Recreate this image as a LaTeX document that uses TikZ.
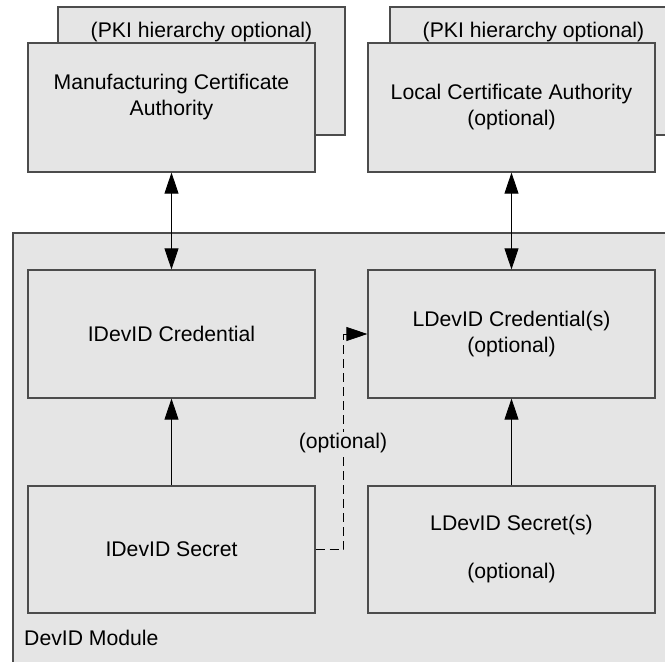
\documentclass[tikz,border=0pt]{standalone}
\usepackage{fontspec}
\setmainfont{Liberation Sans}
\usetikzlibrary{arrows.meta}
\definecolor{boxfill}{gray}{0.9}
\definecolor{boxline}{gray}{0.3}
\begin{document}
\begin{tikzpicture}[x=1pt,y=-1pt,
  box/.style={draw=boxline, fill=boxfill, line width=1.2pt, rectangle, inner sep=0pt, align=center, font=\fontsize{21.2}{26}\selectfont},
  txt/.style={inner sep=1pt, align=center, font=\fontsize{21.2}{26}\selectfont},
  tip/.tip={Triangle[length=21pt,width=14pt]},
  conn/.style={draw=black, line width=0.8pt, -tip},
  biconn/.style={draw=black, line width=0.8pt, tip-tip},
  dashconn/.style={draw=black, line width=0.8pt, dash pattern=on 9pt off 5pt, -tip},
]
\useasboundingbox (0,0) rectangle (665,662);
\clip (0,0) rectangle (665,662);
% back (hierarchy) boxes
\node[box, minimum width=287pt, minimum height=128pt] (mback) at (201.5,71) {};
\node[txt] (mbacktxt) at (201.5,32) {(PKI hierarchy optional)};
\node[box, minimum width=287pt, minimum height=128pt] (lback) at (533.5,71) {};
\node[txt] (lbacktxt) at (533.5,32) {(PKI hierarchy optional)};
% CA boxes
\node[box, minimum width=287pt, minimum height=129pt] (mca) at (171.5,107.5) {Manufacturing Certificate\\Authority\\\mbox{}};
\node[box, minimum width=287pt, minimum height=129pt] (lca) at (511.5,107.5) {Local Certificate Authority\\(optional)};
% module
\node[box, minimum width=707pt, minimum height=487pt] (module) at (366.5,476.5) {};
\node[txt, anchor=west] (modtxt) at (23,638) {DevID Module};
% inner boxes
\node[box, minimum width=287pt, minimum height=128pt] (idc) at (171.5,334) {IDevID Credential};
\node[box, minimum width=287pt, minimum height=128pt] (ldc) at (511.5,334) {LDevID Credential(s)\\(optional)};
\node[box, minimum width=287pt, minimum height=127pt] (ids) at (171.5,549.5) {IDevID Secret};
\node[box, minimum width=287pt, minimum height=127pt] (lds) at (511.5,549.5) {LDevID Secret(s)\\[-2pt]\mbox{}\\[-2pt](optional)};
% connectors
\draw[biconn] (mca.south) -- (idc.north);
\draw[biconn] (lca.south) -- (ldc.north);
\draw[conn] (ids.north) -- (idc.south);
\draw[conn] (lds.north) -- (ldc.south);
\draw[dashconn] (ids.east) -- ++(28,0) |- (ldc.west);
\node[txt, fill=boxfill] (opt) at (343,443) {(optional)};
\end{tikzpicture}
\end{document}
